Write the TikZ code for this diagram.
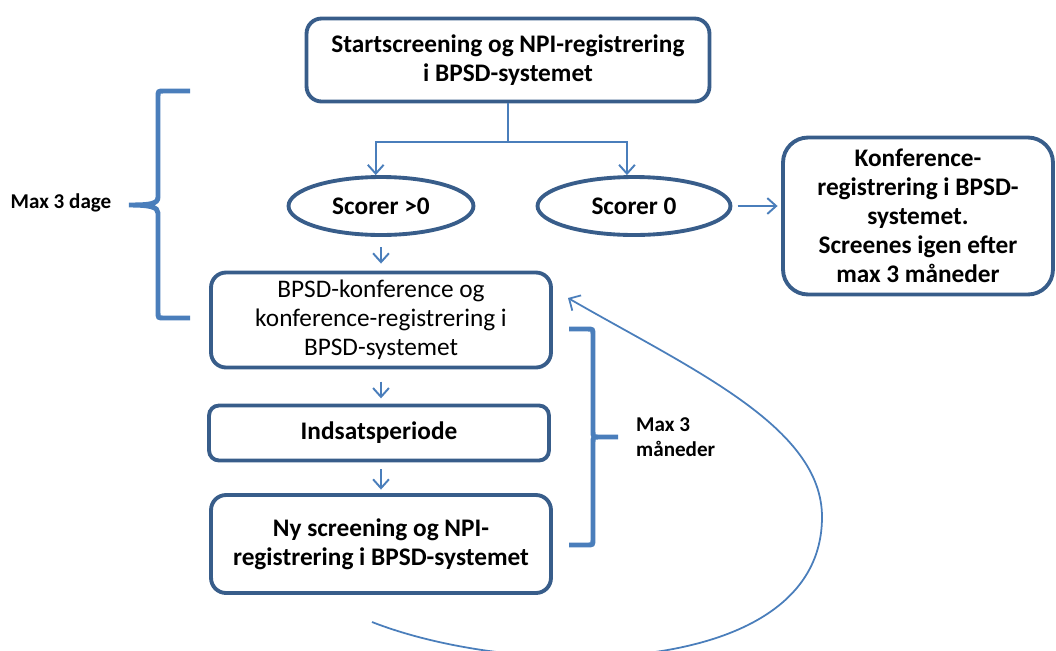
\documentclass[tikz,border=0pt]{standalone}
\usepackage{fontspec}
\setmainfont{Carlito}
\usetikzlibrary{arrows.meta,shapes.geometric}
\definecolor{boxblue}{RGB}{56,93,138}
\definecolor{lineblue}{RGB}{74,126,187}

\begin{document}
\begin{tikzpicture}[x=0.02cm,y=-0.02cm]
\tikzstyle{size}=[minimum width=6.8 cm, minimum height=1.9 cm,anchor=center]

\tikzstyle{module}=[size,rectangle,rounded corners=0.3cm,draw=boxblue,line width=2.2pt,inner sep=0pt,align=center,font=\fontsize{14.4}{16.5}\selectfont]
\tikzstyle{choice}=[ellipse,draw=boxblue,line width=2.2pt,inner sep=0pt,font=\bfseries\fontsize{14.4}{16.5}\selectfont]
\tikzstyle{label}=[font=\bfseries\fontsize{12}{14}\selectfont,align=left]
\tikzstyle{flow}=[draw=lineblue,line width=1.1pt,-{Straight Barb[length=5pt,width=9pt]}]
\tikzstyle{brace}=[draw=lineblue,line width=2.8pt]

\useasboundingbox (0,0) rectangle (1056,650);

\node [module,minimum width=8.06 cm,minimum height=1.66 cm,font=\bfseries\fontsize{14.4}{16.5}\selectfont] at (508,60) (start) {Startscreening og NPI-registrering\\i BPSD-systemet};
\node [choice,minimum width=3.7 cm,minimum height=1.16 cm] at (381,206) (pos) {Scorer >0};
\node [choice,minimum width=3.86 cm,minimum height=1.16 cm] at (634,206) (zero) {Scorer 0};
\node [module,minimum width=5.4 cm,minimum height=3.14 cm,rounded corners=0.5cm,font=\bfseries\fontsize{14.4}{16.5}\selectfont] at (918,216) (konf) {Konference-\\registrering i BPSD-\\systemet.\\Screenes igen efter\\max 3 måneder};

\node [module] at (381,320) (conf) {BPSD-konference og\\konference-registrering i\\BPSD-systemet};
\node [module,minimum height=1.1 cm,rounded corners=0.2cm,font=\bfseries\fontsize{14.4}{16.5}\selectfont] at (379,433) (indsats) {Indsatsperiode};
\node [module,minimum height=1.96 cm,font=\bfseries\fontsize{14.4}{16.5}\selectfont] at (381,544) (ny) {Ny screening og NPI-\\registrering i BPSD-systemet};

\node [label] at (61,203) (dage) {Max 3 dage};
\node [label,anchor=west] at (630,437) (maaneder) {Max 3\\måneder};

\draw [flow] (start.south) -- ++(0,39) -| ([xshift=-3]pos.north);
\draw [flow] (start.south) -- ++(0,39) -| ([xshift=-4]zero.north);
\draw [flow,shorten <=6pt,shorten >=4pt] (pos.south) -- (conf.north);
\draw [flow,shorten <=7pt,shorten >=3pt] (conf.south) -- (conf.south |- indsats.north);
\draw [flow,shorten <=4pt,shorten >=2pt] (conf.south |- indsats.south) -- (ny.north);
\draw [flow,shorten <=3pt,shorten >=2pt] (zero.east) -- (konf.west |- zero.east);

% braces
\draw [brace] (190,91) -- (164,91) .. controls (158,91) .. (158,97) -- (158,197) .. controls (158,204) and (150,205) .. (129,205)
  .. controls (150,205) and (158,207) .. (158,213) -- (158,312) .. controls (158,318) .. (164,318) -- (190,318);
\draw [brace] (569,329) -- (587,329) .. controls (593,329) .. (593,335) -- (593,431) .. controls (593,437) .. (599,437) -- (618,437)
  -- (599,437) .. controls (593,437) .. (593,443) -- (593,539) .. controls (593,545) .. (587,545) -- (569,545);

% back loop
\coordinate (back) at (372,622);
\coordinate (backtip) at (568,298);
\draw [flow,line width=1pt,-{Straight Barb[length=5pt,width=10pt]}] (back) .. controls (520,680) and (822,680) .. (822,517)
  .. controls (822,427) and (693,370) .. (backtip);
\end{tikzpicture}
\end{document}
